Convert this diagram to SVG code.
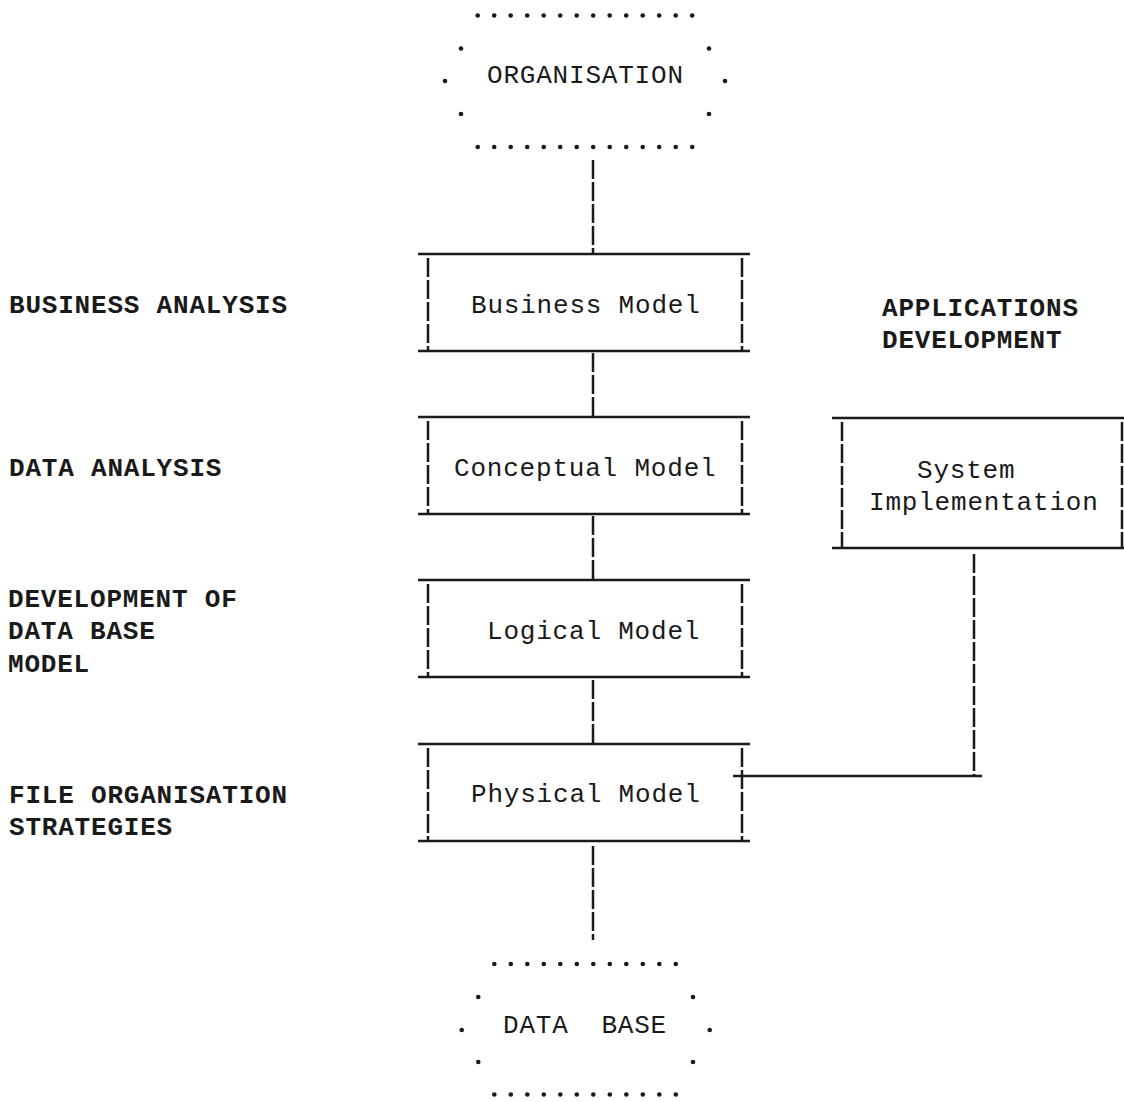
<svg xmlns="http://www.w3.org/2000/svg" width="1124" height="1102" viewBox="0 0 1124 1102">
  <style>
    .t { font-family: "Liberation Mono", "Courier New", monospace; font-size: 26px; letter-spacing: 0.8px; fill: #1a1a1a; }
    .b { font-weight: bold; }
    .rule { stroke: #1a1a1a; stroke-width: 2.5; fill: none; }
    .side { stroke: #1a1a1a; stroke-width: 2.5; fill: none; stroke-dasharray: 19 3; }
    .dot { fill: #1a1a1a; }
  </style>
  <defs>
    <!-- one typed dot -->
    <circle id="pt" class="dot" r="2.3"/>
    <!-- model box frame: ruled top and bottom, typed bars at the sides -->
    <g id="frame">
      <line class="rule" x1="418" y1="0" x2="750" y2="0"/>
      <line class="rule" x1="418" y1="97" x2="750" y2="97"/>
      <line class="side" x1="428" y1="4" x2="428" y2="97"/>
      <line class="side" x1="742" y1="4" x2="742" y2="97"/>
    </g>
  </defs>
  <rect width="1124" height="1102" fill="#ffffff"/>

  <!-- connectors -->
  <g id="connectors">
    <line class="side" x1="593" y1="160" x2="593" y2="254"/>
    <line class="side" x1="593" y1="353" x2="593" y2="417"/>
    <line class="side" x1="593" y1="516" x2="593" y2="580"/>
    <line class="side" x1="593" y1="680" x2="593" y2="743"/>
    <line class="side" x1="593" y1="846" x2="593" y2="940"/>
    <line class="side" x1="974" y1="554" x2="974" y2="776"/>
    <line class="rule" x1="733" y1="776" x2="982" y2="776"/>
  </g>

  <!-- organisation (dotted outline) -->
  <g id="organisation">
    <g id="org-top">
      <use href="#pt" x="477.7" y="15.5"/><use href="#pt" x="494.2" y="15.5"/><use href="#pt" x="510.7" y="15.5"/><use href="#pt" x="527.2" y="15.5"/><use href="#pt" x="543.7" y="15.5"/><use href="#pt" x="560.2" y="15.5"/><use href="#pt" x="576.7" y="15.5"/><use href="#pt" x="593.2" y="15.5"/><use href="#pt" x="609.7" y="15.5"/><use href="#pt" x="626.2" y="15.5"/><use href="#pt" x="642.7" y="15.5"/><use href="#pt" x="659.2" y="15.5"/><use href="#pt" x="675.7" y="15.5"/><use href="#pt" x="692.2" y="15.5"/>
    </g>
    <use href="#org-top" y="131.5"/>
    <use href="#pt" x="461" y="48.5"/><use href="#pt" x="709" y="48.5"/>
    <use href="#pt" x="445" y="81"/><use href="#pt" x="725" y="81"/>
    <use href="#pt" x="461" y="114"/><use href="#pt" x="709" y="114"/>
    <text class="t" x="487" y="83">ORGANISATION</text>
  </g>

  <!-- model stack -->
  <g id="business-model">
    <use href="#frame" y="254"/>
    <text class="t" x="471" y="313">Business Model</text>
  </g>
  <g id="conceptual-model">
    <use href="#frame" y="417"/>
    <text class="t" x="454" y="476">Conceptual Model</text>
  </g>
  <g id="logical-model">
    <use href="#frame" y="580"/>
    <text class="t" x="487" y="639">Logical Model</text>
  </g>
  <g id="physical-model">
    <use href="#frame" y="744"/>
    <text class="t" x="471" y="802">Physical Model</text>
  </g>

  <!-- system implementation -->
  <g id="system-implementation">
    <line class="rule" x1="832" y1="418" x2="1124" y2="418"/>
    <line class="rule" x1="832" y1="548" x2="1124" y2="548"/>
    <line class="side" x1="842" y1="422" x2="842" y2="548"/>
    <line class="side" x1="1122" y1="422" x2="1122" y2="548"/>
    <text class="t" x="917" y="478">System</text>
    <text class="t" x="869" y="510">Implementation</text>
  </g>

  <!-- data base (dotted outline) -->
  <g id="data-base">
    <g id="db-top">
      <use href="#pt" x="494.3" y="964"/><use href="#pt" x="510.8" y="964"/><use href="#pt" x="527.3" y="964"/><use href="#pt" x="543.8" y="964"/><use href="#pt" x="560.3" y="964"/><use href="#pt" x="576.8" y="964"/><use href="#pt" x="593.3" y="964"/><use href="#pt" x="609.8" y="964"/><use href="#pt" x="626.3" y="964"/><use href="#pt" x="642.8" y="964"/><use href="#pt" x="659.3" y="964"/><use href="#pt" x="675.8" y="964"/>
    </g>
    <use href="#db-top" y="130.5"/>
    <use href="#pt" x="478.3" y="997"/><use href="#pt" x="693" y="997"/>
    <use href="#pt" x="461.7" y="1030"/><use href="#pt" x="709.7" y="1030"/>
    <use href="#pt" x="478.3" y="1062"/><use href="#pt" x="693" y="1062"/>
    <text class="t" x="503" y="1033" xml:space="preserve">DATA  BASE</text>
  </g>

  <!-- phase labels -->
  <g id="phase-labels">
    <text class="t b" x="9" y="313">BUSINESS ANALYSIS</text>
    <text class="t b" x="9" y="476">DATA ANALYSIS</text>
    <text class="t b" x="8" y="607">DEVELOPMENT OF</text>
    <text class="t b" x="8" y="639">DATA BASE</text>
    <text class="t b" x="8" y="672">MODEL</text>
    <text class="t b" x="9" y="803">FILE ORGANISATION</text>
    <text class="t b" x="9" y="835">STRATEGIES</text>
    <text class="t b" x="882" y="316">APPLICATIONS</text>
    <text class="t b" x="882" y="348">DEVELOPMENT</text>
  </g>
</svg>
